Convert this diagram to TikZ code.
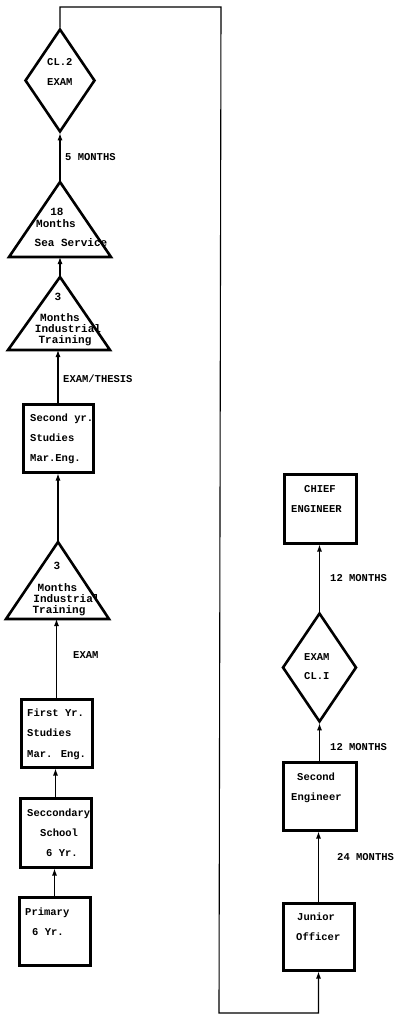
\documentclass[tikz,border=0pt]{standalone}
\usepackage{fontspec}
\newfontfamily\dmfont{Liberation Mono}
\usetikzlibrary{arrows.meta,shapes.geometric}
\begin{document}
\begin{tikzpicture}[x=1pt,y=-1pt,
  box/.style={draw,rectangle,line width=3pt,inner sep=0pt},
  dia/.style={draw,diamond,line width=2.6pt,inner sep=0pt},
  tri/.style={draw,line width=2.6pt,line join=miter},
  arr/.style={line width=1.1pt,-{Latex[length=7pt,width=5pt]}},
  txt/.style={font=\dmfont\bfseries\fontsize{10.5}{12}\selectfont,inner sep=0pt,anchor=base west},
  ttxt/.style={font=\dmfont\bfseries\fontsize{11}{12}\selectfont,inner sep=0pt,anchor=base}]
\useasboundingbox (0,0) rectangle (398,1016);

% ---- left column: boxes
\node[box,minimum width=71pt,minimum height=68pt] (pr) at (54.5,931) {};
\node[box,minimum width=71pt,minimum height=69pt] (sc) at (55.5,832.5) {};
\node[box,minimum width=71pt,minimum height=68pt] (fy) at (56.5,733) {};
\node[box,minimum width=70pt,minimum height=68pt] (sy) at (58,438) {};
% diamond CL.2
\node[dia,minimum width=70pt,minimum height=103pt] (d2) at (60,80.5) {};
% triangles
\coordinate (t1a) at (60,182); \coordinate (t1b) at (60,257);
\draw[tri] (t1a) -- (9,257) -- (111,257) -- cycle;
\coordinate (t2a) at (60,277); \coordinate (t2b) at (60,350);
\draw[tri] (t2a) -- (8,350) -- (110,350) -- cycle;
\coordinate (t3a) at (58,542); \coordinate (t3b) at (58,619);
\draw[tri] (t3a) -- (6,619) -- (109,619) -- cycle;

% ---- right column
\node[box,minimum width=72pt,minimum height=69pt] (ce) at (320,508.5) {};
\node[dia,minimum width=74pt,minimum height=109pt] (d1) at (319.5,667.5) {};
\node[box,minimum width=73pt,minimum height=68pt] (sn) at (319.5,796) {};
\node[box,minimum width=71pt,minimum height=67pt] (jo) at (318.5,936.5) {};

% ---- texts
\node[txt] (sy1) at (30,421.5) {Second yr.};
\node[txt] (sy2) at (30,441.5) {Studies};
\node[txt] (sy3) at (30,461.5) {Mar.Eng.};
\node[txt] (fy1) at (27,716.5) {First Yr.};
\node[txt] (fy2) at (27,736.5) {Studies};
\node[txt] (fy3) at (27,757.5) {Mar. Eng.};
\node[txt] (sc1) at (27,816.5) {Seccondary};
\node[txt] (sc2) at (40,836.5) {School};
\node[txt] (sc3) at (46,856.5) {6 Yr.};
\node[txt] (pr1) at (25,915.5) {Primary};
\node[txt] (pr2) at (32,935.5) {6 Yr.};
\node[txt] (ce1) at (304,492.5) {CHIEF};
\node[txt] (ce2) at (291,512.5) {ENGINEER};
\node[txt] (sn1) at (297,780.5) {Second};
\node[txt] (sn2) at (291,800.5) {Engineer};
\node[txt] (jo1) at (297,920.5) {Junior};
\node[txt] (jo2) at (296,940.5) {Officer};
\node[txt] (d2a) at (47,65.5) {CL.2};
\node[txt] (d2b) at (47,85.5) {EXAM};
\node[txt] (d1a) at (304,660.5) {EXAM};
\node[txt] (d1b) at (304,679.5) {CL.I};
\node[ttxt] (t1x) at (57,215.5) {18};
\node[ttxt] (t1y) at (56,227) {Months};
\node[ttxt] (t1z) at (71,246.5) {Sea Service};
\node[ttxt] (t2w) at (58,300.5) {3};
\node[ttxt] (t2x) at (60,321.5) {Months};
\node[ttxt] (t2y) at (68,332.5) {Industrial};
\node[ttxt] (t2z) at (65,343.5) {Training};
\node[ttxt] (t3w) at (57,569.5) {3};
\node[ttxt] (t3x) at (57.5,591.5) {Months};
\node[ttxt] (t3y) at (66.5,602.5) {Industrial};
\node[ttxt] (t3z) at (59,613.5) {Training};
\node[txt] (l1) at (65,160.5) {5 MONTHS};
\node[txt] (l2) at (63,382.5) {EXAM/THESIS};
\node[txt] (l3) at (73,658.5) {EXAM};
\node[txt] (l4) at (330,581.5) {12 MONTHS};
\node[txt] (l5) at (330,750.5) {12 MONTHS};
\node[txt] (l6) at (337,860.5) {24 MONTHS};

% ---- connectors
\draw[arr] (pr.north) -- (pr.north |- sc.south);
\draw[arr] (sc.north) -- (sc.north |- fy.south);
\draw[arr] (fy.north) -- (fy.north |- t3b);
\draw[arr] (t3a) -- (t3a |- sy.south);
\draw[arr] (sy.north) -- (sy.north |- t2b);
\draw[arr] (t2a) -- (t1b);
\draw[arr] (t1a) -- (d2.south);
\draw[arr] (jo.north) -- (jo.north |- sn.south);
\draw[arr] (sn.north) -- (d1.south);
\draw[arr] (d1.north) -- (d1.north |- ce.south);
\coordinate (tr) at (221,7);
\coordinate (br) at (219,1013);
\draw[arr] (d2.north) |- (tr) -- (br) -| (jo.south);
\end{tikzpicture}
\end{document}
